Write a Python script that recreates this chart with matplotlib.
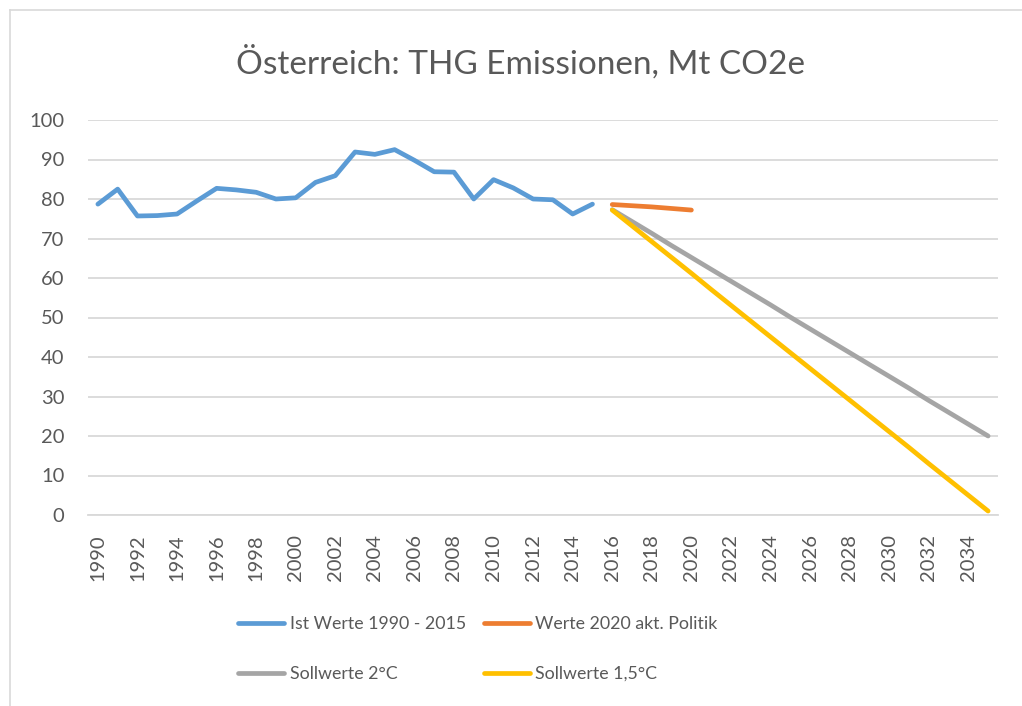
import matplotlib
matplotlib.use("Agg")
import matplotlib.pyplot as plt
from matplotlib.lines import Line2D

years = list(range(1990, 2036))

ist_years = list(range(1990, 2016))
ist_values = [78.7, 82.5, 75.7, 75.8, 76.2, 79.5, 82.7, 82.3, 81.7, 80.0,
              80.3, 84.2, 85.9, 91.9, 91.3, 92.5, 89.8, 86.9, 86.8, 80.0,
              84.9, 82.8, 80.0, 79.8, 76.2, 78.7]

politik_years = list(range(2016, 2021))
politik_values = [78.6, 78.3, 78.0, 77.6, 77.2]

soll_years = list(range(2016, 2036))
soll2_values = [77.3, 74.3, 71.3, 68.2, 65.2, 62.2, 59.2, 56.2, 53.2, 50.1,
                47.1, 44.1, 41.1, 38.1, 35.1, 32.1, 29.0, 26.0, 23.0, 20.0]
soll15_values = [77.2, 73.2, 69.2, 65.2, 61.2, 57.1, 53.1, 49.1, 45.1, 41.1,
                 37.1, 33.1, 29.1, 25.1, 21.1, 17.1, 13.0, 9.0, 5.0, 1.0]

labels = ["Ist Werte 1990 - 2015", "Werte 2020 akt. Politik",
          "Sollwerte 2°C", "Sollwerte 1,5°C"]
colors = ["#5B9BD5", "#ED7D31", "#A5A5A5", "#FFC000"]
title = "Österreich: THG Emissionen, Mt CO2e"
yticks = list(range(0, 101, 10))

text_color = "#595959"
grid_color = "#D9D9D9"
font = "Lato"

fig = plt.figure(figsize=(10.22, 7.06), dpi=100)
fig.patch.set_facecolor("white")

# chart border (top and left visible)
fig.add_artist(Line2D([10/1022, 1.0], [1 - 10/706, 1 - 10/706], transform=fig.transFigure,
                      color=grid_color, lw=1.2))
fig.add_artist(Line2D([10/1022, 10/1022], [0, 1 - 10/706], transform=fig.transFigure,
                      color=grid_color, lw=1.2))

ax = fig.add_axes([88/1022, 1 - 515/706, (998 - 88)/1022, (515 - 120)/706])

def idx(ys):
    return [y - years[0] for y in ys]

lw = 3.4
series = [
    (idx(ist_years), ist_values),
    (idx(politik_years), politik_values),
    (idx(soll_years), soll2_values),
    (idx(soll_years), soll15_values),
]
handles = []
for (xs, vs), c, lab in zip(series, colors, labels):
    h, = ax.plot(xs, vs, color=c, lw=lw, solid_capstyle="round",
                 solid_joinstyle="round", label=lab, zorder=3)
    handles.append(h)
handles[2].set_zorder(2.5)

ax.set_xlim(-0.5, len(years) - 0.5)
ax.set_ylim(0, 100)
ax.set_yticks(yticks)
ax.set_yticklabels([str(v) for v in yticks], fontsize=14.5, color=text_color, family=font)
xt = [i for i, y in enumerate(years) if y % 2 == 0]
ax.set_xticks(xt)
ax.set_xticklabels([str(years[i]) for i in xt], rotation=90, fontsize=14.5,
                   color=text_color, family=font)
ax.tick_params(axis="both", length=0)
ax.tick_params(axis="x", pad=14)
ax.tick_params(axis="y", pad=17)
ax.grid(axis="y", color=grid_color, lw=1.3)
ax.set_axisbelow(True)
for s in ["left", "right", "top"]:
    ax.spines[s].set_visible(False)
ax.spines["bottom"].set_color(grid_color)
ax.spines["bottom"].set_linewidth(1.3)

fig.text(520/1022, 1 - 62/706, title, ha="center", va="center", fontsize=24,
         color=text_color, family=font, fontweight="normal")

order = [0, 2, 1, 3]
leg = fig.legend([handles[i] for i in order], [labels[i] for i in order],
                 ncol=2, loc="upper left", bbox_to_anchor=(238/1022, 1 - 616/706),
                 frameon=False, handlelength=2.6, handletextpad=0.3,
                 columnspacing=1.0, labelspacing=1.9, borderpad=0, borderaxespad=0,
                 prop={"family": font, "size": 12.8})
for t in leg.get_texts():
    t.set_color(text_color)

fig.savefig("out.png", dpi=100, facecolor="white")
